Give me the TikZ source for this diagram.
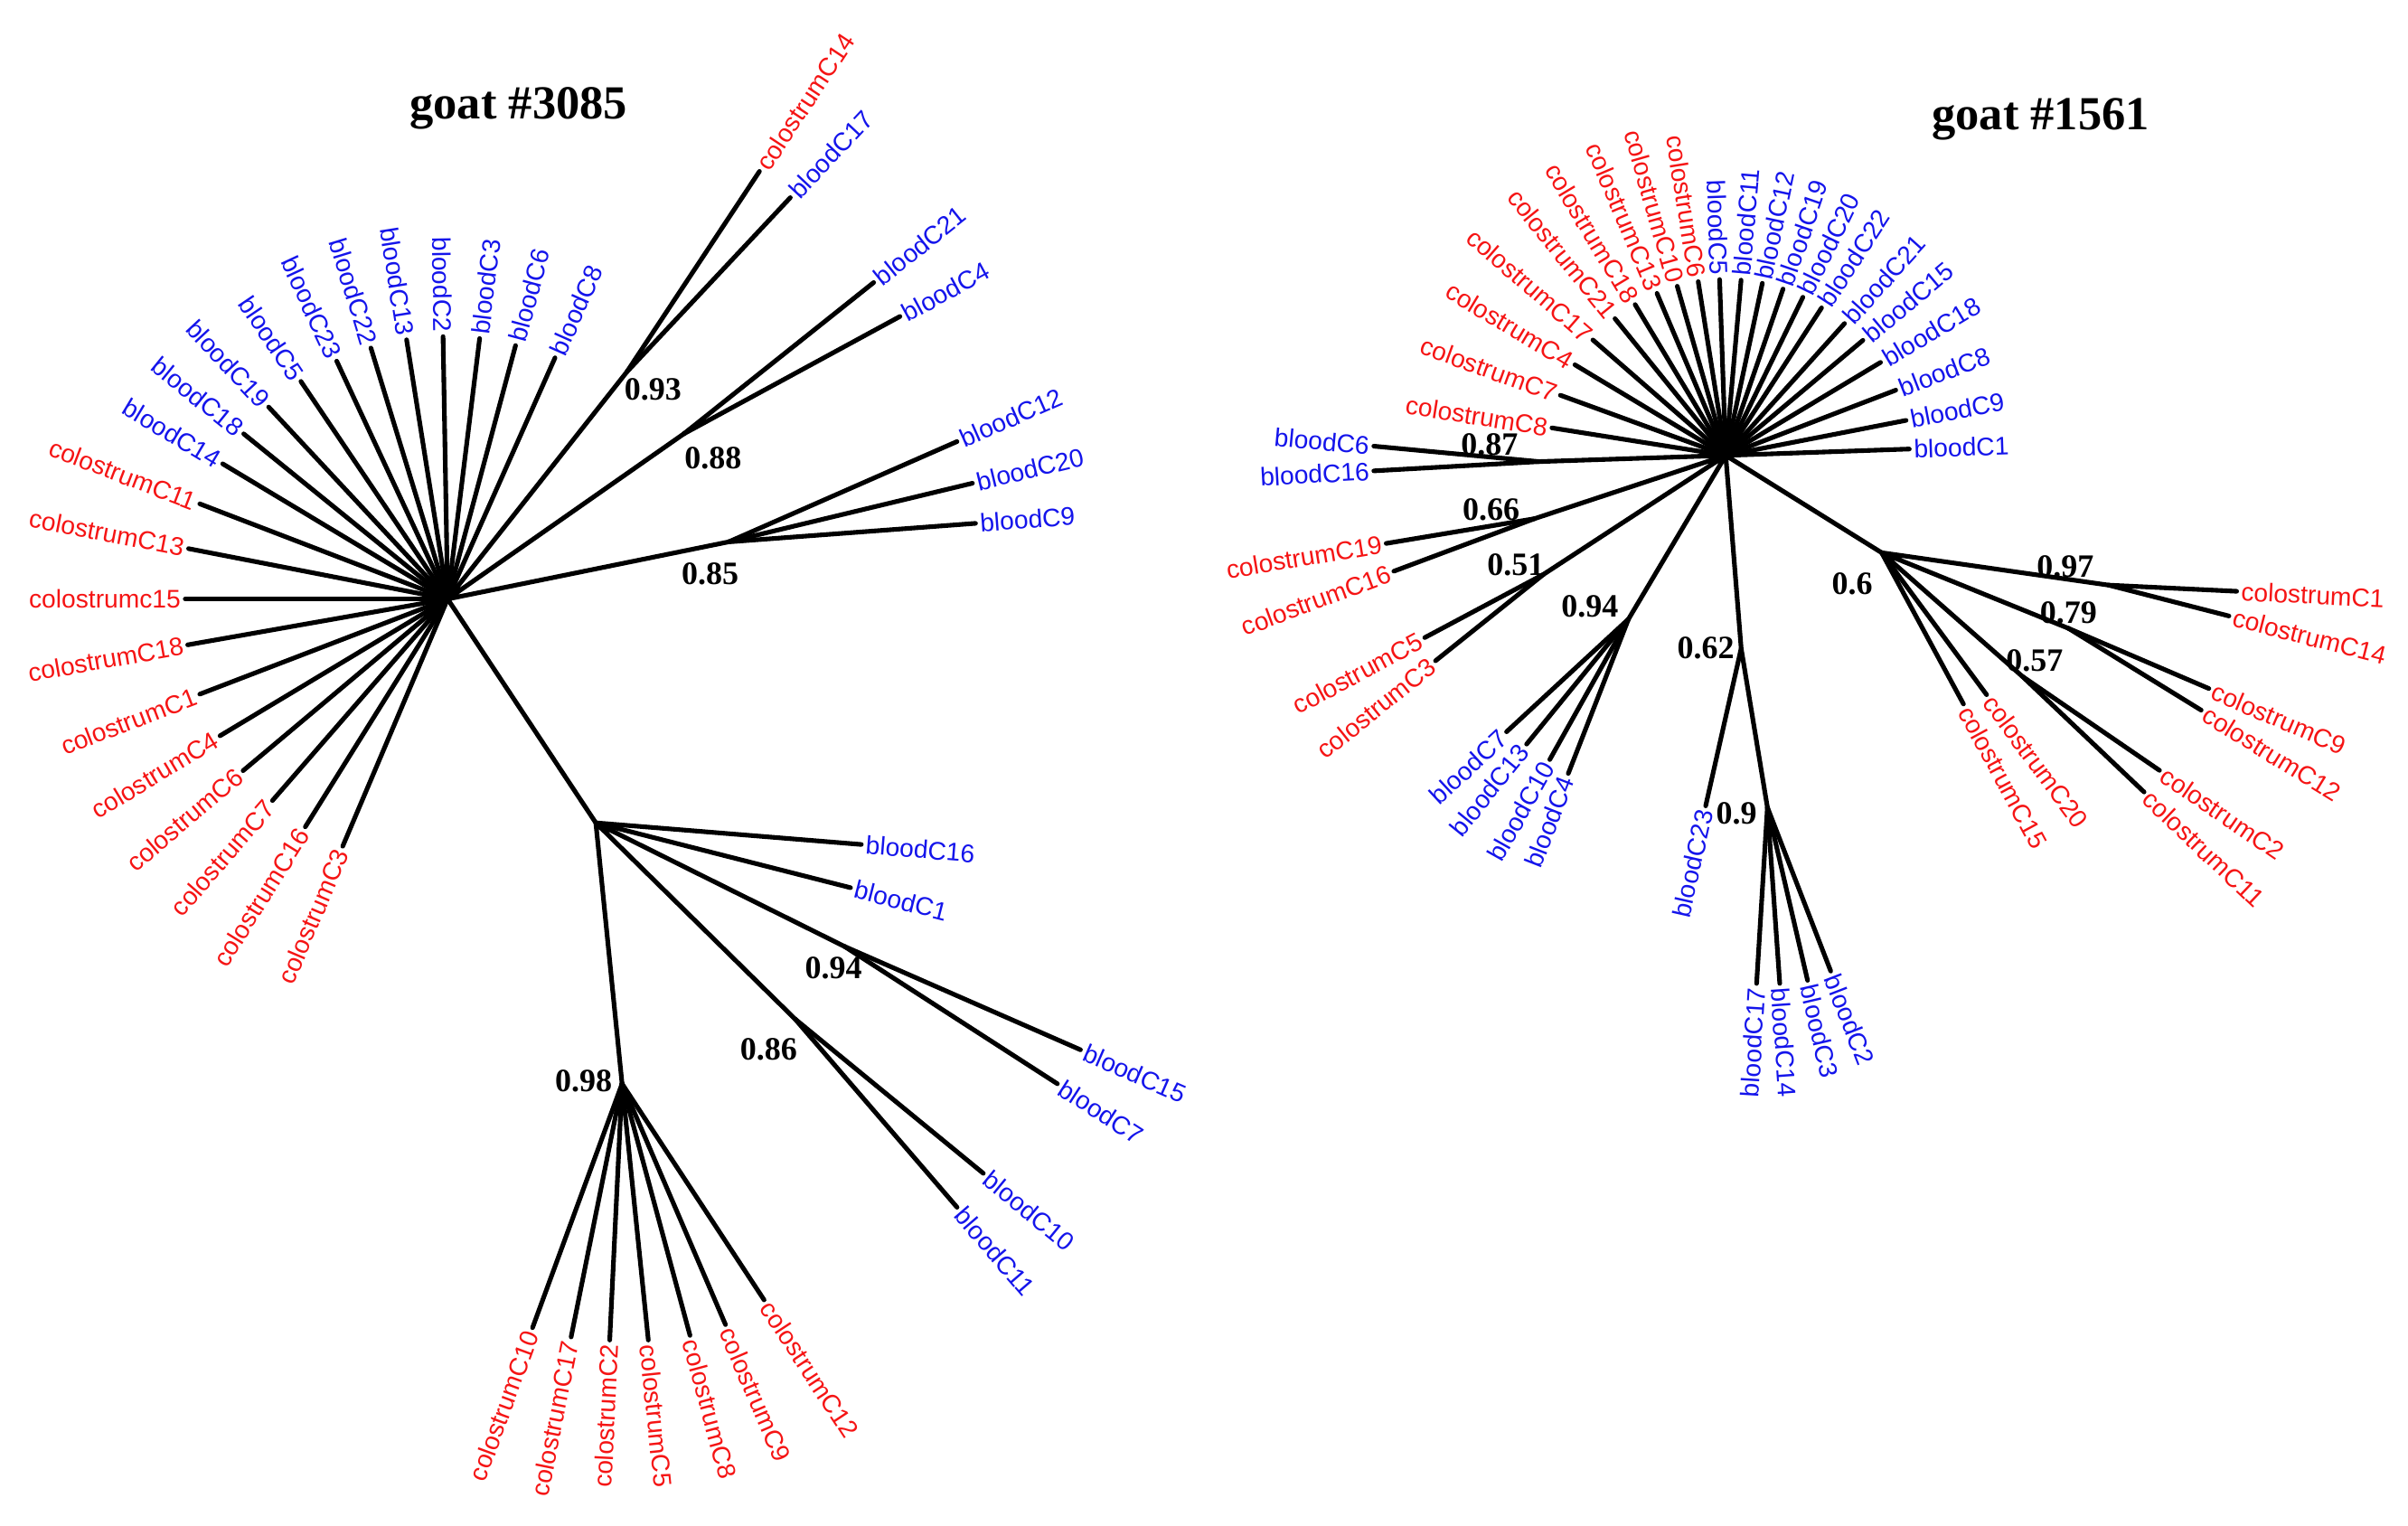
\documentclass[tikz,border=0pt]{standalone}
\usepackage{fontspec}
\setmainfont{Liberation Sans}
\newfontfamily\numf{Liberation Serif}
\usetikzlibrary{calc}
\definecolor{lblue}{RGB}{20,20,235}
\definecolor{lred}{RGB}{245,20,20}
\tikzset{br/.style={line width=1.7pt,line cap=round},
 lbl/.style={inner sep=1.5pt,font=\fontsize{9.4}{9.4}\selectfont},
 num/.style={inner sep=0pt,font=\numf\bfseries\fontsize{12}{12}\selectfont},
 ttl/.style={inner sep=0pt,font=\numf\bfseries\fontsize{17.5}{17.5}\selectfont}}
\newcommand\leafR[4]{\draw[br] (#1) -- #2 coordinate (tmp);
 \path let \p1=($(tmp)-(#1)$), \n1={atan2(\y1,\x1)} in node[lbl,text=#4,rotate=\n1,anchor=west] at (tmp) {#3};}
\newcommand\leafL[4]{\draw[br] (#1) -- #2 coordinate (tmp);
 \path let \p1=($(tmp)-(#1)$), \n1={atan2(\y1,\x1)} in node[lbl,text=#4,rotate=\n1+180,anchor=east] at (tmp) {#3};}
\begin{document}
\begin{tikzpicture}[x=0.02cm,y=-0.02cm]
\useasboundingbox (0,0) rectangle (1560,988);
% ===== left tree
\node[ttl] (t1) at (336,70) {goat \#3085};
\coordinate (H1) at (290,388);
\coordinate (N93) at (406,241);
\coordinate (N88) at (443,281);
\coordinate (N85) at (472,351);
\coordinate (NL) at (386,533);
\coordinate (N94) at (547,613);
\coordinate (N86) at (515,660);
\coordinate (N98) at (403,702);
\draw[br] (H1)--(N93) (H1)--(N88) (H1)--(N85) (H1)--(NL) (NL)--(N94) (NL)--(N86) (NL)--(N98);
\leafR{H1}{($(H1)+(-66:171)$)}{bloodC8}{lblue}
\leafR{H1}{($(H1)+(-75:170)$)}{bloodC6}{lblue}
\leafR{H1}{($(H1)+(-83:170)$)}{bloodC3}{lblue}
\leafL{H1}{($(H1)+(-91:170)$)}{bloodC2}{lblue}
\leafL{H1}{($(H1)+(-99:170)$)}{bloodC13}{lblue}
\leafL{H1}{($(H1)+(-107:170)$)}{bloodC22}{lblue}
\leafL{H1}{($(H1)+(-115:170)$)}{bloodC23}{lblue}
\leafL{H1}{($(H1)+(-124:170)$)}{bloodC5}{lblue}
\leafL{H1}{($(H1)+(-133:170)$)}{bloodC19}{lblue}
\leafL{H1}{($(H1)+(-141:170)$)}{bloodC18}{lblue}
\leafL{H1}{($(H1)+(-149:170)$)}{bloodC14}{lblue}
\leafL{H1}{($(H1)+(-159:172)$)}{colostrumC11}{lred}
\leafL{H1}{($(H1)+(-169:171)$)}{colostrumC13}{lred}
\leafL{H1}{($(H1)+(-180:170)$)}{colostrumc15}{lred}
\leafL{H1}{($(H1)+(-190:171)$)}{colostrumC18}{lred}
\leafL{H1}{($(H1)+(-201:172)$)}{colostrumC1}{lred}
\leafL{H1}{($(H1)+(-211:172)$)}{colostrumC4}{lred}
\leafL{H1}{($(H1)+(-220:173)$)}{colostrumC6}{lred}
\leafL{H1}{($(H1)+(-229:173)$)}{colostrumC7}{lred}
\leafL{H1}{($(H1)+(-238:174)$)}{colostrumC16}{lred}
\leafL{H1}{($(H1)+(-247:174)$)}{colostrumC3}{lred}
\leafR{N93}{(492,111)}{colostrumC14}{lred}
\leafR{N93}{(512,128)}{bloodC17}{lblue}
\leafR{N88}{(566,183)}{bloodC21}{lblue}
\leafR{N88}{(583,205)}{bloodC4}{lblue}
\leafR{N85}{(620,286)}{bloodC12}{lblue}
\leafR{N85}{(630,313)}{bloodC20}{lblue}
\leafR{N85}{(632,339)}{bloodC9}{lblue}
\leafR{NL}{(558,547)}{bloodC16}{lblue}
\leafR{NL}{(551,575)}{bloodC1}{lblue}
\leafR{N94}{(700,680)}{bloodC15}{lblue}
\leafR{N94}{(685,702)}{bloodC7}{lblue}
\leafR{N86}{(637,760)}{bloodC10}{lblue}
\leafR{N86}{(620,782)}{bloodC11}{lblue}
\leafL{N98}{(345,860)}{colostrumC10}{lred}
\leafL{N98}{(370,866)}{colostrumC17}{lred}
\leafL{N98}{(395,868)}{colostrumC2}{lred}
\leafR{N98}{(420,868)}{colostrumC5}{lred}
\leafR{N98}{(447,865)}{colostrumC8}{lred}
\leafR{N98}{(470,858)}{colostrumC9}{lred}
\leafR{N98}{(495,842)}{colostrumC12}{lred}
\node[num] (a1) at (423,252) {0.93};
\node[num] (a2) at (462,297) {0.88};
\node[num] (a3) at (460,372) {0.85};
\node[num] (a4) at (540,627) {0.94};
\node[num] (a5) at (498,680) {0.86};
\node[num] (a6) at (378,700) {0.98};
% ===== right tree
\node[ttl] (t2) at (1322,77) {goat \#1561};
\coordinate (H2) at (1118,295);
\coordinate (R87) at (997,299);
\coordinate (R66) at (994,336);
\coordinate (R51) at (1000,372);
\coordinate (R94) at (1055,401);
\coordinate (R62) at (1128,420);
\coordinate (R9) at (1145,523);
\coordinate (R6) at (1219,358);
\coordinate (R97) at (1366,379);
\coordinate (R79) at (1340,407);
\coordinate (R57) at (1310,438);
\draw[br] (H2)--(R87) (H2)--(R66) (H2)--(R51) (H2)--(R94) (H2)--(R62) (R62)--(R9) (H2)--(R6) (R6)--(R97) (R6)--(R79) (R6)--(R57);
\leafL{H2}{($(H2)+(-171:114)$)}{colostrumC8}{lred}
\leafL{H2}{($(H2)+(-160:114)$)}{colostrumC7}{lred}
\leafL{H2}{($(H2)+(-149:114)$)}{colostrumC4}{lred}
\leafL{H2}{($(H2)+(-139:114)$)}{colostrumC17}{lred}
\leafL{H2}{($(H2)+(-129:114)$)}{colostrumC21}{lred}
\leafL{H2}{($(H2)+(-121:114)$)}{colostrumC18}{lred}
\leafL{H2}{($(H2)+(-113:114)$)}{colostrumC13}{lred}
\leafL{H2}{($(H2)+(-106:114)$)}{colostrumC10}{lred}
\leafL{H2}{($(H2)+(-99:114)$)}{colostrumC6}{lred}
\leafL{H2}{($(H2)+(-92:114)$)}{bloodC5}{lblue}
\leafR{H2}{($(H2)+(-85:114)$)}{bloodC11}{lblue}
\leafR{H2}{($(H2)+(-78:114)$)}{bloodC12}{lblue}
\leafR{H2}{($(H2)+(-71:114)$)}{bloodC19}{lblue}
\leafR{H2}{($(H2)+(-64:114)$)}{bloodC20}{lblue}
\leafR{H2}{($(H2)+(-57:114)$)}{bloodC22}{lblue}
\leafR{H2}{($(H2)+(-48:115)$)}{bloodC21}{lblue}
\leafR{H2}{($(H2)+(-40:116)$)}{bloodC15}{lblue}
\leafR{H2}{($(H2)+(-31:117)$)}{bloodC18}{lblue}
\leafR{H2}{($(H2)+(-21:118)$)}{bloodC8}{lblue}
\leafR{H2}{($(H2)+(-11:119)$)}{bloodC9}{lblue}
\leafR{H2}{($(H2)+(-2:119)$)}{bloodC1}{lblue}
\leafL{R87}{(890,289)}{bloodC6}{lblue}
\leafL{R87}{(890,305)}{bloodC16}{lblue}
\leafL{R66}{(898,352)}{colostrumC19}{lred}
\leafL{R66}{(903,370)}{colostrumC16}{lred}
\leafL{R51}{(923,413)}{colostrumC5}{lred}
\leafL{R51}{(930,428)}{colostrumC3}{lred}
\leafL{R94}{(976,474)}{bloodC7}{lblue}
\leafL{R94}{(989,482)}{bloodC13}{lblue}
\leafL{R94}{(1004,492)}{bloodC10}{lblue}
\leafL{R94}{(1016,501)}{bloodC4}{lblue}
\leafL{R62}{(1105,522)}{bloodC23}{lblue}
\leafL{R9}{(1138,637)}{bloodC17}{lblue}
\leafR{R9}{(1153,637)}{bloodC14}{lblue}
\leafR{R9}{(1171,635)}{bloodC3}{lblue}
\leafR{R9}{(1186,629)}{bloodC2}{lblue}
\leafR{R6}{(1272,456)}{colostrumC15}{lred}
\leafR{R6}{(1287,450)}{colostrumC20}{lred}
\leafR{R97}{(1449,383)}{colostrumC1}{lred}
\leafR{R97}{(1444,399)}{colostrumC14}{lred}
\leafR{R79}{(1431,446)}{colostrumC9}{lred}
\leafR{R79}{(1426,460)}{colostrumC12}{lred}
\leafR{R57}{(1399,499)}{colostrumC2}{lred}
\leafR{R57}{(1389,513)}{colostrumC11}{lred}
\node[num] (b1) at (965,288) {0.87};
\node[num] (b2) at (966,330) {0.66};
\node[num] (b3) at (982,366) {0.51};
\node[num] (b4) at (1030,393) {0.94};
\node[num] (b5) at (1105,420) {0.62};
\node[num] (b6) at (1125,527) {0.9};
\node[num] (b7) at (1200,378) {0.6};
\node[num] (b8) at (1338,367) {0.97};
\node[num] (b9) at (1340,397) {0.79};
\node[num] (b10) at (1318,428) {0.57};
\end{tikzpicture}
\end{document}
